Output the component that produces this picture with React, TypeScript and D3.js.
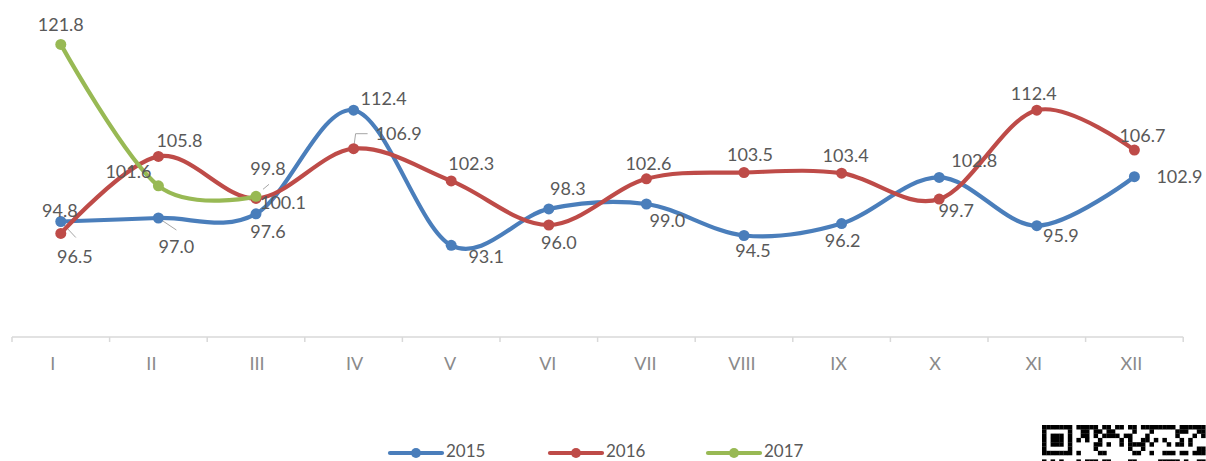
import React from "react";
import * as d3 from "d3";

const categories = ["I", "II", "III", "IV", "V", "VI", "VII", "VIII", "IX", "X", "XI", "XII"];
const values2015 = [96.5, 97.0, 97.6, 112.4, 93.1, 98.3, 99.0, 94.5, 96.2, 102.8, 95.9, 102.9];
const values2016 = [94.8, 105.8, 99.8, 106.9, 102.3, 96.0, 102.6, 103.5, 103.4, 99.7, 112.4, 106.7];
const values2017 = [121.8, 101.6, 100.1];
const seriesNames = ["2015", "2016", "2017"];

// label layout offsets (dx, dy relative to point) – layout only
const labelOffsets: number[][][] = [
  [[14, 41.5], [18, 35], [12, 24], [30, -5], [35, 18], [19, -14], [21, 23], [9, 21.5], [1, 23], [35, -10], [24, 16], [45, 6]],
  [[-1, -16], [21, -9], [12, -23], [45, -9], [20, -11], [10, 24], [2, -9], [6, -12], [4, -11], [17, 18], [-3, -10], [8, -8]],
  [[0, -13], [-30, -8], [27, 13]],
];
const axisLabelShift = [-8, -7, 1, 1, -1, -1, -1, -2, -3, -4, -3, -3];

const colors = ["#4A7EBB", "#BE4B48", "#98B954"];
const W = 1206;
const H = 461;
const FONT = "Lato, 'Open Sans', sans-serif";

function QR() {
  const x0 = 1042;
  const y0 = 425;
  const m = 4.3;
  const cols = 38;
  const rows = 9;
  const cells: React.ReactElement[] = [];
  for (let r = 0; r < rows; r++) {
    for (let c = 0; c < cols; c++) {
      let on = false;
      if (c < 7 && r < 7) {
        on = r === 0 || r === 6 || c === 0 || c === 6 || (r >= 2 && r <= 4 && c >= 2 && c <= 4);
      } else if (c === 7 || r === 7) {
        on = false;
      } else {
        const h = (((r + 3) * 73856093) ^ ((c + 5) * 19349663) ^ ((r * c + 11) * 83492791)) >>> 0;
        on = h % 7 < 3 || (r === 0 && c % 3 !== 1);
      }
      if (on) cells.push(<rect key={`${r}-${c}`} x={x0 + c * m} y={y0 + r * m} width={m + 0.2} height={m + 0.2} fill="#000" />);
    }
  }
  return (
    <g>
      <rect x={1036} y={420} width={170} height={41} fill="#fff" />
      {cells}
    </g>
  );
}

export default function App() {
  const x = d3.scaleBand<string>().domain(categories).range([12, 1183.2]).padding(0);
  const y = d3.scaleLinear().domain([80, 130]).range([337, -13]);
  const cx = (i: number) => (x(categories[i]) as number) + x.bandwidth() / 2;

  const allSeries = [values2015, values2016, values2017];
  const line = d3
    .line<number>()
    .x((_, i) => cx(i))
    .y((v) => y(v))
    .curve(d3.curveCardinal.tension(0));

  const leaders: [number, number][][] = [
    [[cx(0), y(values2015[0])], [cx(0) + 15, y(values2015[0]) + 16]],
    [[cx(1), y(values2015[1])], [cx(1) + 18, y(values2015[1]) + 12]],
    [[cx(3), y(values2016[3])], [cx(3) + 2, y(values2016[3]) - 15], [cx(3) + 14, y(values2016[3]) - 15]],
    [[cx(2) + 7, y(values2017[2]) - 7], [cx(2) + 13, y(values2017[2]) - 12]],
  ];

  const legendX = [390, 550, 708];

  return (
    <div style={{ position: "absolute", left: 0, top: 0, width: W, height: H, background: "#fff" }}>
      <svg width={W} height={H} style={{ display: "block" }}>
        <rect width={W} height={H} fill="#fff" />
        {/* axis */}
        <line x1={12} x2={1183.2} y1={337} y2={337} stroke="#d9d9d9" strokeWidth={1.5} />
        {categories.map((c, i) => (
          <line key={`t${i}`} x1={x(c)} x2={x(c)} y1={337} y2={342} stroke="#d9d9d9" strokeWidth={1.5} />
        ))}
        <line x1={1183.2} x2={1183.2} y1={337} y2={342} stroke="#d9d9d9" strokeWidth={1.5} />
        {categories.map((c, i) => (
          <text key={`c${i}`} x={cx(i) + axisLabelShift[i]} y={370} textAnchor="middle" fontFamily={FONT} fontSize={18} fill="#8a8a8a">
            {c}
          </text>
        ))}
        {/* leader lines */}
        {leaders.map((pts, i) => (
          <polyline key={`l${i}`} points={pts.map((p) => p.join(",")).join(" ")} fill="none" stroke="#a6a6a6" strokeWidth={1} />
        ))}
        {/* lines */}
        {allSeries.map((vals, si) => (
          <g key={`s${si}`}>
            <path d={line(vals) as string} fill="none" stroke={colors[si]} strokeWidth={4.2} strokeLinecap="round" />
            {vals.map((v, i) => (
              <circle key={i} cx={cx(i)} cy={y(v)} r={5.5} fill={colors[si]} />
            ))}
          </g>
        ))}
        {/* labels */}
        {allSeries.map((vals, si) => (
          <g key={`lb${si}`}>
            {vals.map((v, i) => (
              <text
                key={i}
                x={cx(i) + labelOffsets[si][i][0]}
                y={y(v) + labelOffsets[si][i][1]}
                textAnchor="middle"
                fontFamily={FONT}
                fontSize={18}
                fill="#595959"
              >
                {v.toFixed(1)}
              </text>
            ))}
          </g>
        ))}
        {/* legend */}
        {seriesNames.map((n, i) => (
          <g key={`lg${i}`}>
            <line x1={legendX[i]} x2={legendX[i] + 52} y1={453} y2={453} stroke={colors[i]} strokeWidth={4.2} strokeLinecap="round" />
            <circle cx={legendX[i] + 26} cy={453} r={5} fill={colors[i]} />
            <text x={legendX[i] + 56} y={457} fontFamily={FONT} fontSize={17} fill="#595959">
              {n}
            </text>
          </g>
        ))}
        <QR />
      </svg>
    </div>
  );
}
